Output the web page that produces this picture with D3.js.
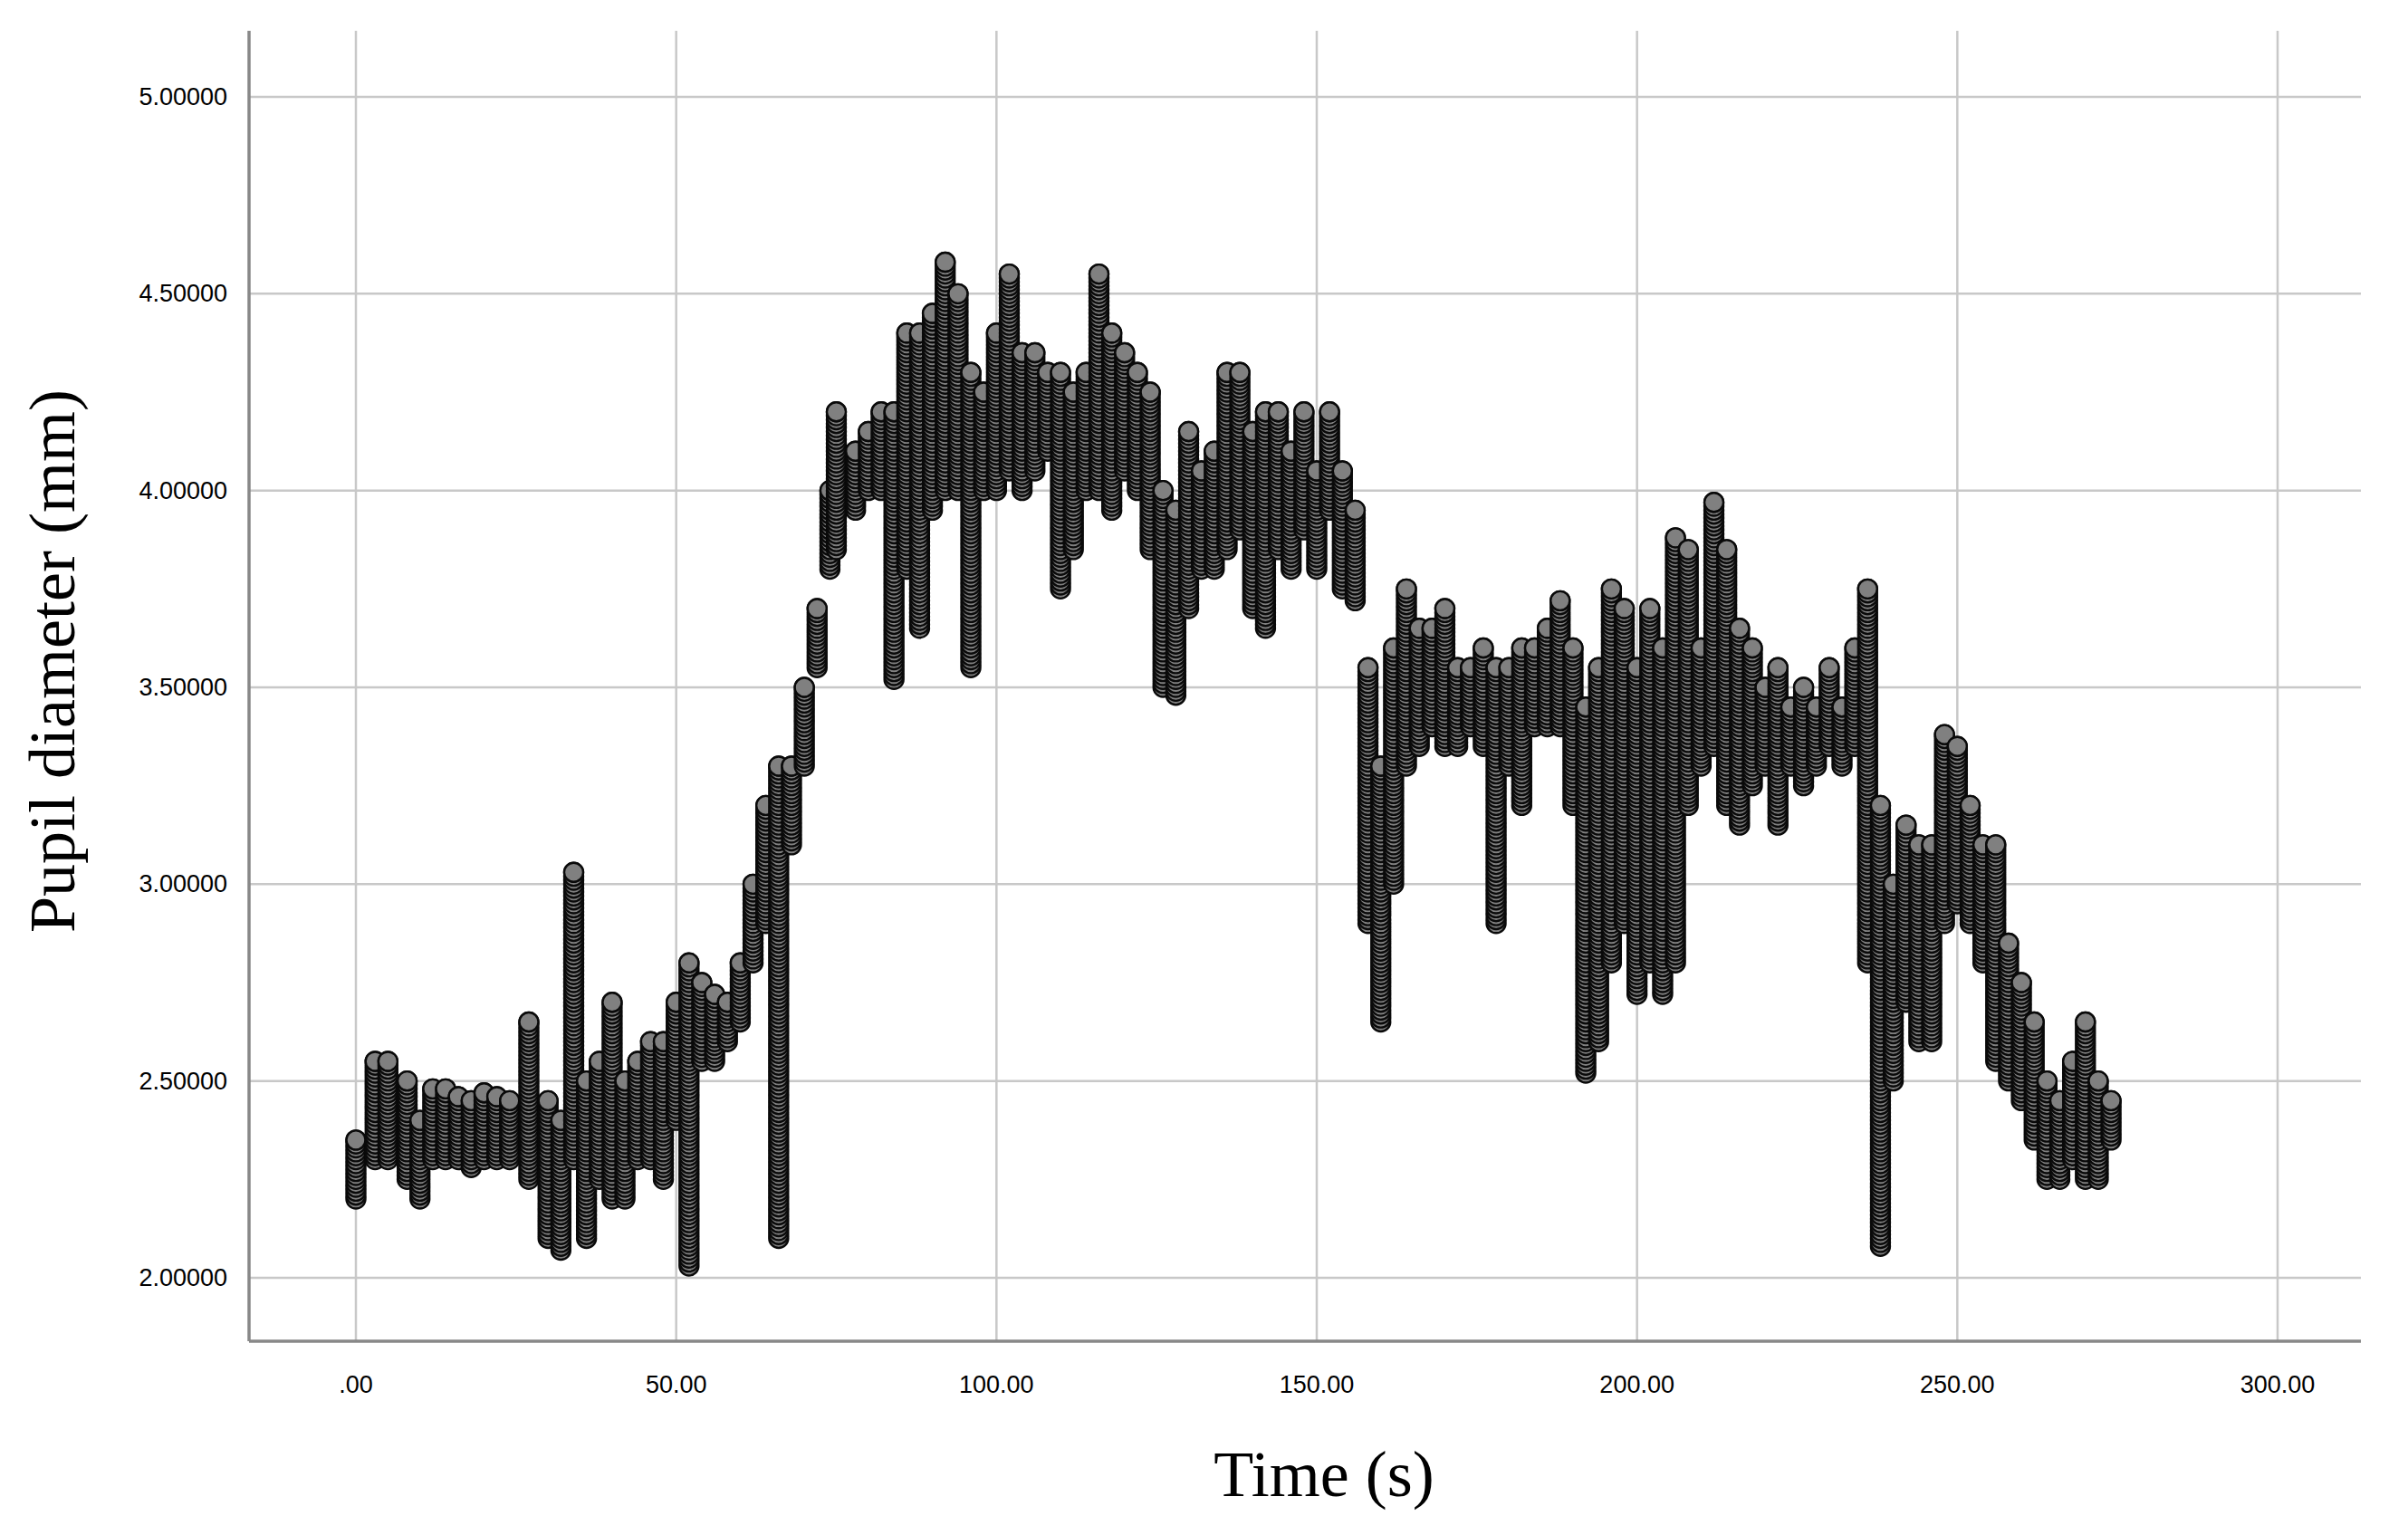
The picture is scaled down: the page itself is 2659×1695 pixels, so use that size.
<!DOCTYPE html>
<html><head><meta charset="utf-8">
<script src="https://cdn.jsdelivr.net/npm/d3@7"></script>
<style>body{margin:0;background:#fff}</style></head>
<body><svg id="c" width="2659" height="1695"></svg>
<script>
const times=[0,3,5,8,10,12,14,16,18,20,22,24,27,30,32,34,36,38,40,42,44,46,48,50,52,54,56,58,60,62,64,66,68,70,72,74,75,78,80,82,84,86,88,90,92,94,96,98,100,102,104,106,108,110,112,114,116,118,120,122,124,126,128,130,132,134,136,138,140,142,144,146,148,150,152,154,156,158,160,162,164,166,168,170,172,174,176,178,180,182,184,186,188,190,192,194,196,198,200,202,204,206,208,210,212,214,216,218,220,222,224,226,228,230,232,234,236,238,240,242,244,246,248,250,252,254,256,258,260,262,264,266,268,270,272,274];
const lows=[2.2,2.3,2.3,2.25,2.2,2.3,2.3,2.3,2.28,2.3,2.3,2.3,2.25,2.1,2.07,2.3,2.1,2.25,2.2,2.2,2.3,2.3,2.25,2.4,2.03,2.55,2.55,2.6,2.65,2.8,2.9,2.1,3.1,3.3,3.55,3.8,3.85,3.95,4.0,4.0,3.52,3.8,3.65,3.95,4.0,4.0,3.55,4.0,4.0,4.05,4.0,4.05,4.1,3.75,3.85,4.0,4.0,3.95,4.05,4.0,3.85,3.5,3.48,3.7,3.8,3.8,3.85,3.9,3.7,3.65,3.85,3.8,3.9,3.8,3.95,3.75,3.72,2.9,2.65,3.0,3.3,3.35,3.4,3.35,3.35,3.4,3.35,2.9,3.3,3.2,3.4,3.4,3.4,3.2,2.52,2.6,2.8,2.9,2.72,2.8,2.72,2.8,3.2,3.3,3.35,3.2,3.15,3.25,3.3,3.15,3.3,3.25,3.3,3.35,3.3,3.35,2.8,2.08,2.5,2.7,2.6,2.6,2.9,2.95,2.9,2.8,2.55,2.5,2.45,2.35,2.25,2.25,2.3,2.25,2.25,2.35];
const highs=[2.35,2.55,2.55,2.5,2.4,2.48,2.48,2.46,2.45,2.47,2.46,2.45,2.65,2.45,2.4,3.03,2.5,2.55,2.7,2.5,2.55,2.6,2.6,2.7,2.8,2.75,2.72,2.7,2.8,3.0,3.2,3.3,3.3,3.5,3.7,4.0,4.2,4.1,4.15,4.2,4.2,4.4,4.4,4.45,4.58,4.5,4.3,4.25,4.4,4.55,4.35,4.35,4.3,4.3,4.25,4.3,4.55,4.4,4.35,4.3,4.25,4.0,3.95,4.15,4.05,4.1,4.3,4.3,4.15,4.2,4.2,4.1,4.2,4.05,4.2,4.05,3.95,3.55,3.3,3.6,3.75,3.65,3.65,3.7,3.55,3.55,3.6,3.55,3.55,3.6,3.6,3.65,3.72,3.6,3.45,3.55,3.75,3.7,3.55,3.7,3.6,3.88,3.85,3.6,3.97,3.85,3.65,3.6,3.5,3.55,3.45,3.5,3.45,3.55,3.45,3.6,3.75,3.2,3.0,3.15,3.1,3.1,3.38,3.35,3.2,3.1,3.1,2.85,2.75,2.65,2.5,2.45,2.55,2.65,2.5,2.45];
const xTicks=[0,50,100,150,200,250,300];
const yTicks=[2,2.5,3,3.5,4,4.5,5];

const svg=d3.select("#c");
const L=275,R=2607,T=34,B=1481;
const x=d3.scaleLinear().domain([0,300]).range([393,2515]);
const y=d3.scaleLinear().domain([2,5]).range([1411,107]);
const g=svg.append("g");
g.selectAll(".gx").data(xTicks).enter().append("line")
 .attr("x1",d=>x(d)).attr("x2",d=>x(d)).attr("y1",T).attr("y2",B)
 .attr("stroke","#c8c8c8").attr("stroke-width",2.5);
g.selectAll(".gy").data(yTicks).enter().append("line")
 .attr("x1",L).attr("x2",R).attr("y1",d=>y(d)).attr("y2",d=>y(d))
 .attr("stroke","#c8c8c8").attr("stroke-width",2.5);
g.append("line").attr("x1",L).attr("x2",L).attr("y1",T).attr("y2",B).attr("stroke","#888").attr("stroke-width",3.5);
g.append("line").attr("x1",L).attr("x2",R).attr("y1",B).attr("y2",B).attr("stroke","#888").attr("stroke-width",3.5);
const fmtX=d=>d===0?".00":d.toFixed(2);
g.selectAll(".tx").data(xTicks).enter().append("text")
 .attr("x",d=>x(d)).attr("y",B+57).attr("text-anchor","middle")
 .attr("font-family","Liberation Sans, Arial, sans-serif").attr("font-size",27).text(fmtX);
g.selectAll(".ty").data(yTicks).enter().append("text")
 .attr("x",L-24).attr("y",d=>y(d)+9).attr("text-anchor","end")
 .attr("font-family","Liberation Sans, Arial, sans-serif").attr("font-size",27).text(d=>d.toFixed(5));
const pts=[];
times.forEach((t,i)=>{
  const step=0.01;
  for(let v=lows[i];v<=highs[i]+1e-9;v+=step) pts.push([t,v]);
  pts.push([t,highs[i]]);
});
g.selectAll("circle").data(pts).enter().append("circle")
 .attr("cx",d=>x(d[0])).attr("cy",d=>y(d[1])).attr("r",10.5)
 .attr("fill","#808080").attr("stroke","#0a0a0a").attr("stroke-width",2.4);
svg.append("text").attr("x",1462).attr("y",1652).attr("text-anchor","middle")
 .attr("font-family","Liberation Serif, Times New Roman, serif").attr("font-size",72).text("Time (s)");
svg.append("text").attr("transform","translate(82,730) rotate(-90)").attr("text-anchor","middle")
 .attr("font-family","Liberation Serif, Times New Roman, serif").attr("font-size",72).text("Pupil diameter (mm)");
</script></body></html>
